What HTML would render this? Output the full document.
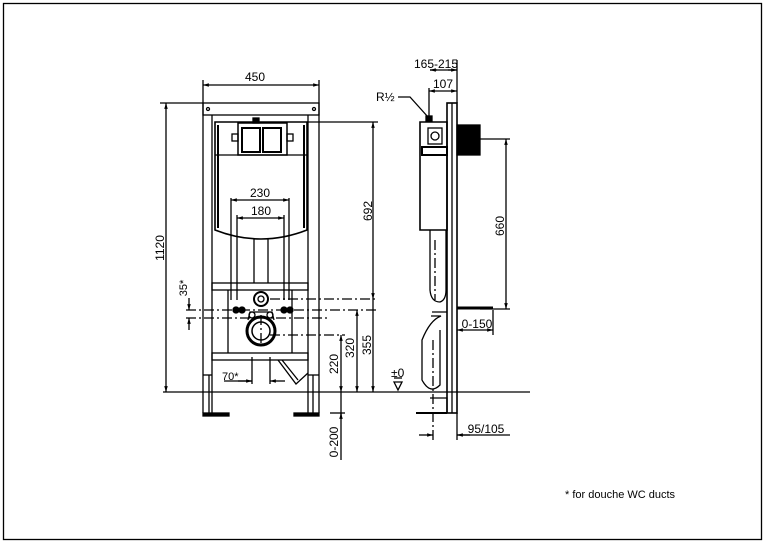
<!DOCTYPE html>
<html><head><meta charset="utf-8"><style>
html,body{margin:0;padding:0;background:#fff;}
svg{display:block;}
text{font-family:"Liberation Sans",Arial,sans-serif;fill:#000;}
</style></head><body>
<svg width="765" height="543" viewBox="0 0 765 543" xmlns="http://www.w3.org/2000/svg">
<defs>
<marker id="a" viewBox="0 0 10 10" refX="10" refY="5" markerWidth="6" markerHeight="4.5" orient="auto-start-reverse"><path d="M0,2 L10,5 L0,8 z" fill="#000"/></marker>
</defs>
<rect x="3.5" y="3.5" width="758" height="536" fill="none" stroke="#000" stroke-width="1.3"/>
<g stroke="#000" fill="none" stroke-width="1.3">
<line x1="163" y1="392" x2="530" y2="392"/>
<rect x="203" y="103" width="116" height="12"/>
<line x1="203" y1="103" x2="203" y2="413"/><line x1="212" y1="115" x2="212" y2="413"/>
<line x1="308" y1="115" x2="308" y2="413"/><line x1="319" y1="103" x2="319" y2="413"/>
<line x1="203" y1="375" x2="212" y2="375"/><line x1="308" y1="375" x2="319" y2="375"/>
<rect x="203" y="413" width="26" height="3" fill="#000"/>
<rect x="294" y="413" width="25" height="3" fill="#000"/>
<line x1="209" y1="375" x2="209" y2="413"/><line x1="313" y1="375" x2="313" y2="413"/>
<circle cx="208" cy="109" r="1.5"/><circle cx="314" cy="109" r="1.5"/>
<path d="M215,122 H307 V230 Q261,248 215,230 Z" stroke-width="1.6"/>
<line x1="215" y1="155" x2="307" y2="155"/>
<line x1="218" y1="125" x2="218" y2="228" stroke-width="2"/>
<line x1="304" y1="125" x2="304" y2="228" stroke-width="2"/>
<rect x="238" y="123" width="49" height="32" stroke-width="1.5"/>
<rect x="242" y="128" width="18" height="24" stroke-width="2"/>
<rect x="263" y="128" width="18" height="24" stroke-width="2"/>
<rect x="253" y="118" width="6" height="5" fill="#000"/>
<rect x="232" y="134" width="6" height="7"/><rect x="287" y="134" width="6" height="7"/>
<line x1="254" y1="238" x2="254" y2="283"/><line x1="268" y1="238" x2="268" y2="283"/>
<rect x="212" y="283" width="96" height="7"/>
<rect x="212" y="353" width="96" height="7"/>
<line x1="228" y1="290" x2="228" y2="353"/><line x1="292" y1="290" x2="292" y2="353"/>
<line x1="231" y1="198" x2="231" y2="300"/><line x1="289" y1="198" x2="289" y2="300"/>
<line x1="237" y1="215" x2="237" y2="300"/><line x1="284" y1="215" x2="284" y2="300"/>
<line x1="231" y1="200" x2="289" y2="200" marker-start="url(#a)" marker-end="url(#a)"/>
<line x1="237" y1="218" x2="284" y2="218" marker-start="url(#a)" marker-end="url(#a)"/>
<circle cx="261" cy="299" r="7" stroke-width="2"/><circle cx="261" cy="299" r="3"/>
<circle cx="261" cy="331" r="14" stroke-width="3"/><circle cx="261" cy="331" r="9" stroke-width="1.5"/>
<path d="M248,320 L250,312 H272 L274,320" />
<circle cx="252" cy="315" r="3"/><circle cx="270" cy="315" r="3"/>
<circle cx="242" cy="310" r="3" fill="#000"/><circle cx="236" cy="310" r="3" fill="#000"/>
<circle cx="284" cy="310" r="3" fill="#000"/><circle cx="290" cy="310" r="3" fill="#000"/>
<g stroke-dasharray="10,3,2,3">
<line x1="186" y1="310" x2="378" y2="310"/>
<line x1="186" y1="318" x2="330" y2="318"/>
<line x1="270" y1="299" x2="378" y2="299"/>
<line x1="270" y1="335" x2="345" y2="335"/>
<line x1="261" y1="315" x2="261" y2="345"/>
</g>
<path d="M278,360 L296,384 L308,373 M282,360 L298,380"/>
<line x1="252" y1="357" x2="252" y2="384"/><line x1="270" y1="357" x2="270" y2="384"/>
<line x1="224" y1="381" x2="252" y2="381"/>
<line x1="238" y1="381" x2="252" y2="381" marker-end="url(#a)"/>
<line x1="285" y1="381" x2="270" y2="381" marker-end="url(#a)"/>
<line x1="203" y1="80" x2="203" y2="103"/><line x1="319" y1="80" x2="319" y2="103"/>
<line x1="203" y1="85" x2="319" y2="85" marker-start="url(#a)" marker-end="url(#a)"/>
<line x1="160" y1="103" x2="203" y2="103"/>
<line x1="166" y1="103" x2="166" y2="392" marker-start="url(#a)" marker-end="url(#a)"/>
<line x1="189" y1="298" x2="189" y2="310" marker-end="url(#a)"/>
<line x1="189" y1="330" x2="189" y2="318" marker-end="url(#a)"/>
<line x1="307" y1="122" x2="378" y2="122"/>
<line x1="373" y1="122" x2="373" y2="299" marker-start="url(#a)" marker-end="url(#a)"/>
<line x1="373" y1="299" x2="373" y2="392" marker-end="url(#a)"/>
<line x1="357" y1="310" x2="357" y2="392" marker-start="url(#a)" marker-end="url(#a)"/>
<line x1="341" y1="335" x2="341" y2="392" marker-start="url(#a)" marker-end="url(#a)"/>
<line x1="341" y1="392" x2="341" y2="460"/>
<line x1="341" y1="416" x2="341" y2="413" marker-end="url(#a)"/>
<line x1="330" y1="413" x2="345" y2="413"/>
<rect x="447" y="103" width="10" height="310" stroke-width="1.6"/>
<line x1="452" y1="103" x2="452" y2="413"/>
<rect x="457" y="125" width="23" height="30" fill="#000"/>
<line x1="480" y1="139" x2="510" y2="139"/>
<line x1="506" y1="139" x2="506" y2="309" marker-start="url(#a)" marker-end="url(#a)"/>
<line x1="457" y1="308" x2="493" y2="308" stroke-width="3"/>
<line x1="480" y1="309" x2="510" y2="309"/>
<line x1="493" y1="310" x2="493" y2="335"/>
<line x1="457" y1="330" x2="493" y2="330" marker-start="url(#a)" marker-end="url(#a)"/>
<path d="M420,122 H447 V230 H420 Z" stroke-width="1.6"/>
<rect x="428" y="128" width="14" height="16"/><circle cx="435" cy="136" r="4"/>
<rect x="422" y="147" width="25" height="8" stroke-width="2"/>
<path d="M430,230 V290 Q431,302 440,302 Q446,300 446,290 V230"/>
<path d="M432,312 H447 M431,316 H441 Q430,320 422,340 V380 Q430,395 440,385 V330"/>
<line x1="433" y1="340" x2="433" y2="440" stroke-dasharray="10,3,2,3"/>
<line x1="435" y1="240" x2="435" y2="300" stroke-dasharray="10,3,2,3"/>
<path d="M430,398 H447 V413 H417"/>
<line x1="416" y1="413" x2="447" y2="413" stroke-width="2"/>
<line x1="419" y1="435" x2="433" y2="435" marker-end="url(#a)"/>
<line x1="470" y1="435" x2="457" y2="435" marker-end="url(#a)"/>
<line x1="457" y1="413" x2="457" y2="440"/>
<line x1="457" y1="435" x2="510" y2="435"/>
<line x1="457" y1="60" x2="457" y2="103"/>
<line x1="430" y1="70" x2="457" y2="70"/>
<line x1="448" y1="70" x2="457" y2="70" marker-end="url(#a)"/>
<line x1="430" y1="70" x2="437" y2="70" marker-start="url(#a)"/>
<line x1="429" y1="88" x2="429" y2="122"/>
<line x1="429" y1="91" x2="457" y2="91" marker-start="url(#a)" marker-end="url(#a)"/>
<path d="M398,97 H410 L428,117"/>
<rect x="426" y="116" width="6" height="5" fill="#000"/>
<path d="M394,382 L398,390 L402,382 Z"/>
<line x1="394" y1="378" x2="402" y2="378"/>
</g>
<g font-size="12">
<text x="255" y="81" text-anchor="middle">450</text>
<text x="260" y="197" text-anchor="middle">230</text>
<text x="261" y="215" text-anchor="middle">180</text>
<text x="222" y="380" font-size="11">70*</text>
<text transform="translate(164,248) rotate(-90)" text-anchor="middle">1120</text>
<text transform="translate(187,288) rotate(-90)" text-anchor="middle" font-size="11">35*</text>
<text transform="translate(372,211) rotate(-90)" text-anchor="middle">692</text>
<text transform="translate(371,345) rotate(-90)" text-anchor="middle">355</text>
<text transform="translate(354,348) rotate(-90)" text-anchor="middle">320</text>
<text transform="translate(338,364) rotate(-90)" text-anchor="middle">220</text>
<text transform="translate(338,442) rotate(-90)" text-anchor="middle">0-200</text>
<text transform="translate(504,226) rotate(-90)" text-anchor="middle">660</text>
<text x="436" y="68" text-anchor="middle">165-215</text>
<text x="443" y="88" text-anchor="middle">107</text>
<text x="376" y="101">R½</text>
<text x="477" y="328" text-anchor="middle">0-150</text>
<text x="486" y="433" text-anchor="middle">95/105</text>
<text x="391" y="377">±0</text>
<text x="565" y="498" font-size="11">* for douche WC ducts</text>
</g>
</svg>
</body></html>
